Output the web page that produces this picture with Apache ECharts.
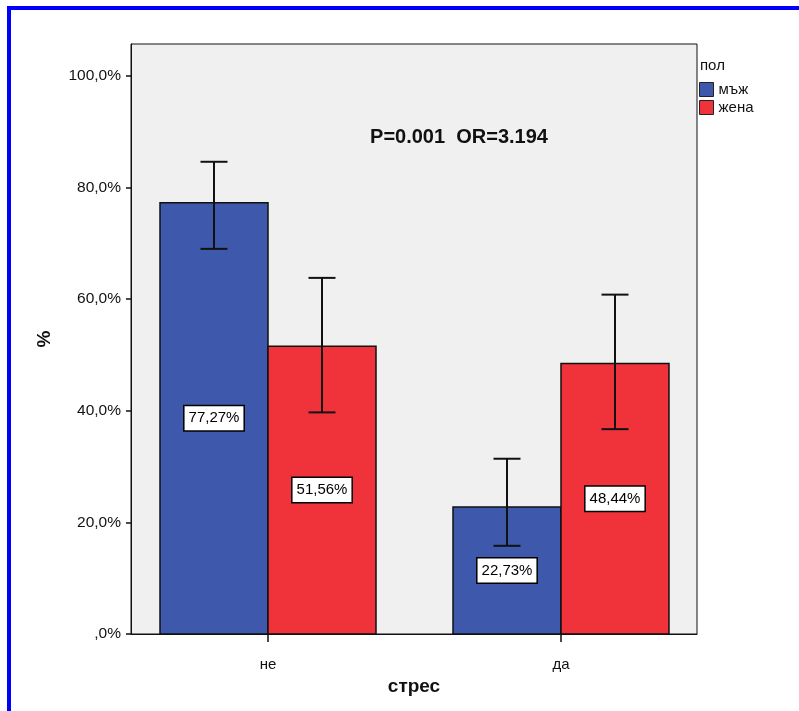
<!DOCTYPE html>
<html><head><meta charset="utf-8">
<script src="https://cdn.jsdelivr.net/npm/echarts@6/dist/echarts.min.js"></script>
<style>html,body{margin:0;padding:0;background:#fff}#c{width:799px;height:711px}</style>
</head><body><div id="c"></div>
<script>
const categories = ['не', 'да'];
const groups = ['мъж', 'жена'];
const maleValues = [77.27, 22.73];
const femaleValues = [51.56, 48.44];
const maleLow = [69.0, 15.8];
const maleHigh = [84.6, 31.4];
const femaleLow = [39.7, 36.7];
const femaleHigh = [63.8, 60.8];
const yTicks = [0, 20, 40, 60, 80, 100];
const yTickLabels = [',0%', '20,0%', '40,0%', '60,0%', '80,0%', '100,0%'];
const legendTitle = 'пол';
const annotation = 'P=0.001  OR=3.194';
const xTitle = 'стрес';
const yTitle = '%';

const colors = ['#3E58AC', '#F0323A'];
const FONT = "'Liberation Sans', Arial, sans-serif";
const catIdx = categories.map((c, i) => i);

function buildData(vals, lo, hi) {
  return catIdx.map(i => [i, vals[i], lo[i], hi[i]]);
}
function fmt(v) { return v.toFixed(2).replace('.', ',') + '%'; }

function makeRender(side, color) {
  return function (params, api) {
    const x = api.value(0), v = api.value(1), lo = api.value(2), hi = api.value(3);
    const base = api.coord([x, 0]);
    const top = api.coord([x, v]);
    const unit = api.size([1, 0])[0];
    const bw = unit * 0.3686;
    const cx = base[0] + side * bw / 2;
    const yLo = api.coord([x, lo])[1];
    const yHi = api.coord([x, hi])[1];
    const cap = 13.5;
    return {
      type: 'group',
      children: [
        { type: 'rect', shape: { x: cx - bw / 2, y: top[1], width: bw, height: base[1] - top[1] },
          style: { fill: color, stroke: '#111', lineWidth: 1.5 } },
        { type: 'line', shape: { x1: cx, y1: yHi, x2: cx, y2: yLo }, style: { stroke: '#111', lineWidth: 2 } },
        { type: 'line', shape: { x1: cx - cap, y1: yHi, x2: cx + cap, y2: yHi }, style: { stroke: '#111', lineWidth: 2 } },
        { type: 'line', shape: { x1: cx - cap, y1: yLo, x2: cx + cap, y2: yLo }, style: { stroke: '#111', lineWidth: 2 } },
        { type: 'text', x: cx, y: (top[1] + base[1]) / 2,
          style: { text: fmt(v), align: 'center', verticalAlign: 'middle', fontFamily: FONT, fontSize: 15,
            lineHeight: 16, fill: '#000', backgroundColor: '#fff', borderColor: '#000', borderWidth: 1.5,
            padding: [4, 4, 4, 4] } }
      ]
    };
  };
}

const chart = echarts.init(document.getElementById('c'), null, { renderer: 'canvas' });
chart.setOption({
  animation: false,
  backgroundColor: '#fff',
  textStyle: { fontFamily: FONT },
  grid: { left: 131, right: 102, top: 44, bottom: 77, show: true, backgroundColor: '#F0F0F0',
    borderColor: '#111', borderWidth: 1 },
  xAxis: {
    type: 'value', min: -0.4676, max: 1.4642,
    splitLine: { show: false },
    axisLine: { show: true, onZero: false, lineStyle: { color: '#111', width: 1 } },
    axisTick: { show: true, customValues: catIdx, length: 8, lineStyle: { color: '#111', width: 1.5 } },
    axisLabel: { customValues: catIdx, formatter: v => categories[Math.round(v)], margin: 23,
      fontSize: 15, color: '#111', fontFamily: FONT },
    name: xTitle, nameLocation: 'middle', nameGap: 43,
    nameTextStyle: { fontSize: 19, fontWeight: 'bold', color: '#111', fontFamily: FONT }
  },
  yAxis: {
    type: 'value', min: 0, max: 105.7,
    splitLine: { show: false },
    axisLine: { show: true, onZero: false, lineStyle: { color: '#111', width: 1 } },
    axisTick: { show: true, customValues: yTicks, length: 5, lineStyle: { color: '#111', width: 1.5 } },
    axisLabel: { customValues: yTicks, formatter: v => yTickLabels[yTicks.indexOf(Math.round(v))] || '',
      margin: 10, fontSize: 15.5, color: '#111', fontFamily: FONT },
    name: yTitle, nameLocation: 'middle', nameGap: 77,
    nameTextStyle: { fontSize: 19, fontWeight: 'bold', color: '#111', fontFamily: FONT }
  },
  legend: {
    orient: 'vertical', left: 699, top: 82, padding: 0, itemWidth: 14, itemHeight: 14, itemGap: 3, icon: 'rect',
    itemStyle: { borderColor: '#222', borderWidth: 1 },
    textStyle: { fontSize: 15, color: '#111', fontFamily: FONT },
    data: groups.map((g, i) => ({ name: g, itemStyle: { color: colors[i], borderColor: '#222', borderWidth: 1 } }))
  },
  graphic: [
    { type: 'rect', shape: { x: 7, y: 6, width: 792, height: 4 }, style: { fill: '#0000FF' }, silent: true },
    { type: 'rect', shape: { x: 7, y: 6, width: 4, height: 705 }, style: { fill: '#0000FF' }, silent: true },
    { type: 'text', x: 700, y: 66, style: { text: legendTitle, fontFamily: FONT, fontSize: 15, fill: '#111',
      align: 'left', verticalAlign: 'middle' } },
    { type: 'text', x: 459, y: 137, style: { text: annotation, fontFamily: FONT, fontSize: 20, fontWeight: 'bold',
      fill: '#111', align: 'center', verticalAlign: 'middle' } }
  ],
  series: [
    { name: groups[0], type: 'custom', renderItem: makeRender(-1, colors[0]),
      itemStyle: { color: colors[0] }, encode: { x: 0, y: [1, 2, 3] },
      data: buildData(maleValues, maleLow, maleHigh) },
    { name: groups[1], type: 'custom', renderItem: makeRender(1, colors[1]),
      itemStyle: { color: colors[1] }, encode: { x: 0, y: [1, 2, 3] },
      data: buildData(femaleValues, femaleLow, femaleHigh) }
  ]
});
</script></body></html>
